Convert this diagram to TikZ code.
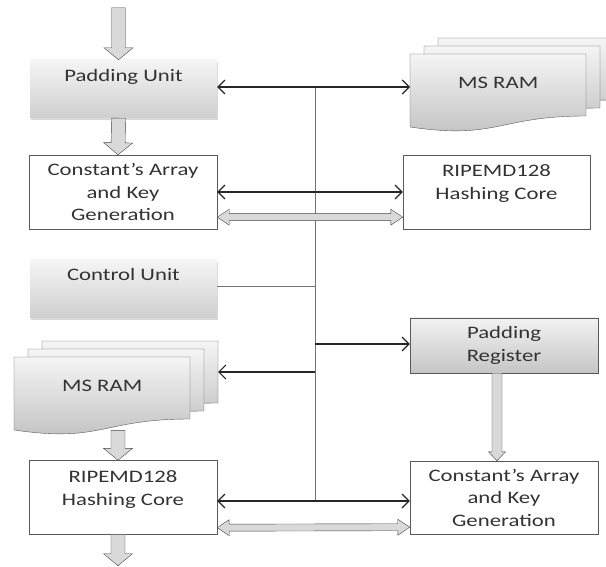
\documentclass[tikz,border=0pt]{standalone}
\usepackage{fontspec}
\setmainfont[FakeStretch=1.3]{Carlito}
\usetikzlibrary{positioning,calc,shadows,arrows.meta}

\tikzset{
    every node/.style={font=\fontsize{17.5}{22.5}\selectfont, text=black!80, inner sep=0pt},
    >={Straight Barb[length=7pt,width=14pt]},
    unit/.style={minimum width=187pt, top color=gray!8, bottom color=gray!38,
        drop shadow={shadow xshift=1pt, shadow yshift=-2pt, opacity=.3}},
    block/.style={draw=black!65, fill=white, minimum width=188pt, minimum height=74pt, align=center},
    reg/.style={draw=black!65, top color=gray!10, bottom color=gray!45,
        minimum width=188pt, minimum height=55pt, align=center},
    sheet/.style={draw=black!65, top color=gray!8, bottom color=gray!50},
    link/.style={draw=black!85, line width=1.1pt},
    bus/.style={draw=black!55, line width=0.8pt},
    fatarrow/.style n args={3}{draw=gray!55!black, fill=gray!30, to path={
        let \p1=(\tikztostart), \p2=(\tikztotarget),
            \n1={veclen(\x2-\x1,\y2-\y1)}, \n2={atan2(\y2-\y1,\x2-\x1)} in
        {[shift={(\p1)}, rotate=\n2]
            (0pt,#1pt) -- ({\n1-#3pt},#1pt) -- ({\n1-#3pt},#2pt) -- (\n1,0pt)
            -- ({\n1-#3pt},-#2pt) -- ({\n1-#3pt},-#1pt) -- (0pt,-#1pt) -- cycle}
    }},
    fatboth/.style n args={3}{draw=gray!55!black, fill=gray!30, to path={
        let \p1=(\tikztostart), \p2=(\tikztotarget),
            \n1={veclen(\x2-\x1,\y2-\y1)}, \n2={atan2(\y2-\y1,\x2-\x1)} in
        {[shift={(\p1)}, rotate=\n2]
            (0pt,0pt) -- (#3pt,#2pt) -- (#3pt,#1pt) -- ({\n1-#3pt},#1pt) -- ({\n1-#3pt},#2pt)
            -- (\n1,0pt) -- ({\n1-#3pt},-#2pt) -- ({\n1-#3pt},-#1pt) -- (#3pt,-#1pt)
            -- (#3pt,-#2pt) -- cycle}
    }},
    ramstack/.pic={
        \foreach \k in {2,1,0}
            \path[sheet, shift={(14*\k,-8*\k)}] (0,0) -- (176,0) -- (176,62)
                .. controls (88,62) and (88,86) .. (0,73) -- cycle;
        \node[minimum width=176pt, text height=34pt, text depth=39pt, anchor=north west] (-front) at (0,0) {MS RAM};
        \coordinate (-back) at (204,0);
    }
}

\begin{document}
\begin{tikzpicture}[x=1pt, y=-1pt]
    \useasboundingbox (0,0) rectangle (606,567);

    \node[unit, text height=21.5pt, text depth=36.5pt] (pu) at (123.5,89) {Padding Unit};
    \node[block] (ca1) at (123,192) {Constant’s Array\\and Key\\Generation};
    \pic (ramA) at (410,54) {ramstack};
    \node[block, minimum width=187pt, text height=44.5pt, text depth=29.5pt] (rip1) at (496.5,192) {RIPEMD128\\Hashing Core};
    \node[unit, text height=20pt, text depth=38pt] (cu) at (123.5,289) {Control Unit};
    \node[reg] (preg) at (504,345.5) {Padding\\Register};
    \pic (ramB) at (14,357) {ramstack};
    \node[block, text height=44pt, text depth=29pt] (rip2) at (123,497.5) {RIPEMD128\\Hashing Core};
    \node[block, minimum height=73pt] (ca2) at (504,497.5) {Constant’s Array\\and Key\\Generation};

    \coordinate (b1) at (315,87);
    \coordinate (b2) at (315,192);
    \coordinate (b3) at (315,286);
    \coordinate (b4) at (315,344);
    \coordinate (b5) at (315,372);
    \coordinate (b6) at (315,501);

    \draw[bus] (b1) -- (b6);
    \draw[bus] (cu.east |- b3) -- (b3);
    \draw[link,<->] (pu.east |- b1) -- (b1 -| ramA-front.west);
    \draw[link,<->] (ca1.east |- b2) -- (b2 -| rip1.west);
    \draw[link,->] (b4) -- (b4 -| preg.west);
    \draw[link,->] (b5) -- (b5 -| ramB-back);
    \draw[link,<->] (rip2.east |- b6) -- (b6 -| ca2.west);

    \draw[fatarrow={7}{14.5}{12}] ([shift={(-5pt,52pt)}]pu.north) to ([xshift=-5pt]pu.north);
    \draw[fatarrow={7}{14.5}{12}] ([xshift=-5pt]pu.south) to ([xshift=-5pt]ca1.north);
    \draw[fatarrow={7}{14.5}{12}] ([xshift=-5pt]rip2.north |- ramB-front.south) to ([xshift=-5pt]rip2.north);
    \draw[fatarrow={7}{14.5}{12}] ([xshift=-5pt]rip2.south) to ([shift={(-5pt,-31pt)}]rip2.south);
    \draw[fatarrow={5}{8.5}{9}] ([xshift=-7pt]preg.south) to ([xshift=-7pt]ca2.north);
    \draw[fatboth={3.5}{8}{12}] ([yshift=12pt]ca1.south east) to ([yshift=12pt]rip1.south west);
    \draw[fatboth={3.5}{8}{12}] ([yshift=7pt]rip2.south east) to ([yshift=7pt]ca2.south west);
\end{tikzpicture}
\end{document}
